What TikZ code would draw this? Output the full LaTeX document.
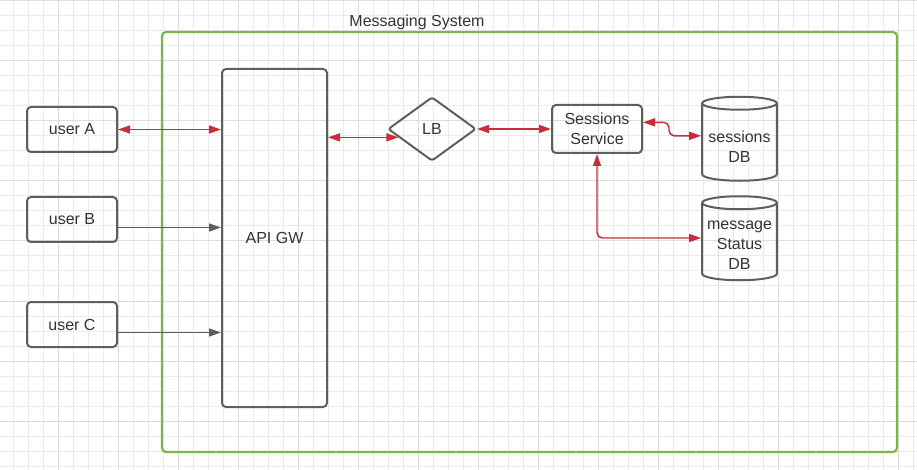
\documentclass[tikz,border=0pt]{standalone}
\usepackage{fontspec}
\setmainfont{Liberation Sans}
\usetikzlibrary{positioning, shapes.geometric, arrows.meta}
\definecolor{lucidred}{HTML}{C92D39}
\definecolor{lucidgray}{HTML}{5E5E5E}
\definecolor{lucidgreen}{HTML}{7AB648}
\definecolor{textgray}{HTML}{333333}
\definecolor{gridminor}{HTML}{EBEBEB}
\definecolor{gridmajor}{HTML}{DCDCDC}
\tikzset{
  block/.style={rectangle, draw=lucidgray, line width=1.5pt, rounded corners=3pt, align=center, text=textgray, font=\fontsize{12}{15}\selectfont},
  dbstore/.style={cylinder, shape border rotate=90, draw=lucidgray, line width=1.5pt, aspect=0.2, minimum width=56pt, minimum height=63pt, inner sep=0pt, font=\fontsize{12}{15}\selectfont},
  dbtext/.style={align=center, inner sep=0pt, text=textgray, font=\fontsize{12}{15}\selectfont},
  redarrow/.style={{Triangle[length=9pt,width=6pt]}-{Triangle[length=9pt,width=6pt]}, draw=lucidred, line width=1.1pt},
  grayarrow/.style={-{Triangle[length=9pt,width=6pt]}, draw=lucidgray, line width=1.1pt},
}

\begin{document}
\begin{tikzpicture}[x=0.75pt, y=-0.75pt]
  \useasboundingbox (0,0) rectangle (917,470);
  % grid background
  \fill[white] (0,0) rectangle (917,470);
  \foreach \gx in {13,28,...,913} \draw[gridminor, line width=0.75pt] (\gx,0) -- (\gx,470);
  \foreach \gy in {1,16,...,466} \draw[gridminor, line width=0.75pt] (0,\gy) -- (917,\gy);
  \foreach \gx in {58,118,...,898} \draw[gridmajor, line width=0.75pt] (\gx,0) -- (\gx,470);
  \foreach \gy in {1,61,...,421} \draw[gridmajor, line width=0.75pt] (0,\gy) -- (917,\gy);

  % system frame
  \draw[lucidgreen, line width=1.6pt, rounded corners=3pt] (162,32) rectangle (897,452);
  \node[text=textgray, font=\fontsize{12}{15}\selectfont] (title) at (417,22) {Messaging System};

  % users
  \node[block, minimum width=67.5pt, minimum height=33.75pt] (userA) at (72,129.5) {user A};
  \node[block, minimum width=67.5pt, minimum height=33.75pt] (userB) at (72,219.5) {user B};
  \node[block, minimum width=67.5pt, minimum height=33.75pt] (userC) at (72,324.5) {user C};

  % gateway and balancer
  \node[block, minimum width=78.75pt, minimum height=253.5pt] (apigw) at (274.5,238) {API GW};
  \node[diamond, draw=lucidgray, line width=1.5pt, rounded corners=2pt, minimum width=66pt, minimum height=48pt, inner sep=0pt, text=textgray, font=\fontsize{12}{15}\selectfont] (lb) at (432,129) {LB};

  % service and stores
  \node[block, minimum width=67.5pt, minimum height=36pt] (sess) at (597,129) {Sessions\\Service};
  \node[dbstore] (sdb) at (739.5,142.5) {\phantom{message}};
  \node[dbtext] (sdbtext) at (739.5,147) {sessions\\DB};
  \node[dbstore] (mdb) at (739.5,242) {\phantom{message}};
  \node[dbtext] (mdbtext) at (739.5,245) {message\\Status\\DB};

  % connectors
  \draw[redarrow] (userA.east) -- (userA.east -| apigw.west);
  \draw[grayarrow] ([yshift=-6pt]userB.east) -- ([yshift=-6pt]userB.east -| apigw.west);
  \draw[grayarrow] ([yshift=-6pt]userC.east) -- ([yshift=-6pt]userC.east -| apigw.west);
  \draw[redarrow] (lb.194 -| apigw.east) -- (lb.194);
  \draw[redarrow] (lb.east) -- (sess.west);
  \draw[redarrow, rounded corners=4pt] ([yshift=5pt]sess.east) -- ++(26,0) |- ([yshift=5pt]sdb.west);
  \draw[redarrow, rounded corners=4pt] (sess.south) |- ([yshift=3pt]mdb.west);
\end{tikzpicture}
\end{document}
